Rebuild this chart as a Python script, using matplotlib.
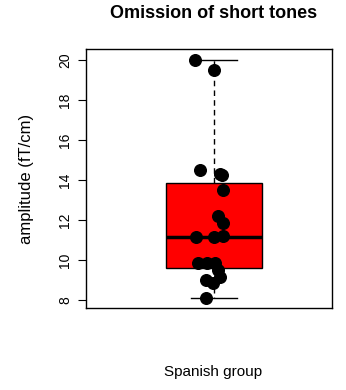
import matplotlib
matplotlib.use("Agg")
import matplotlib.pyplot as plt
import numpy as np

plt.rcParams["font.family"] = ["Liberation Sans", "DejaVu Sans"]

# box summary
box_stats = {"whislo": 8.1, "q1": 9.6, "med": 11.15, "q3": 13.85, "whishi": 20.0}
group_label = "Spanish group"

# individual points: jittered x, amplitude
point_x = [0.923, 1.0, 0.943, 1.024, 1.032, 1.037, 1.016, 1.037,
           0.927, 1.0, 1.037, 0.935, 0.972, 1.004, 1.016, 1.024,
           0.967, 0.996, 0.967]
point_y = [20.0, 19.5, 14.5, 14.3, 14.25, 13.5, 12.2, 11.85,
           11.15, 11.15, 11.2, 9.85, 9.85, 9.85, 9.5, 9.15,
           9.0, 8.85, 8.1]

yticks = [8, 10, 12, 14, 16, 18, 20]

fig = plt.figure(figsize=(3.46, 3.90), dpi=100)
ax = fig.add_axes([0.2486, 0.2103, 0.7109, 0.6641])

stats = [dict(box_stats, label="", fliers=[])]
ax.bxp(stats, positions=[1.0], widths=0.39, patch_artist=True,
       showfliers=False,
       boxprops=dict(facecolor="#ff0000", edgecolor="black", linewidth=1.0),
       medianprops=dict(color="black", linewidth=2.5),
       whiskerprops=dict(color="black", linestyle=(0, (4, 3)), linewidth=1.0),
       capprops=dict(color="black", linewidth=1.0),
       capwidths=0.19)

ax.scatter(point_x, point_y, s=70, color="black", zorder=3)

ax.set_xlim(0.48, 1.48)
ax.set_ylim(7.6, 20.55)
ax.set_xticks([])
ax.set_yticks(yticks)
ax.set_yticklabels([str(t) for t in yticks], rotation=90, va="center", fontsize=10)
ax.tick_params(axis="y", length=6, width=0.8, pad=4)
for s in ax.spines.values():
    s.set_linewidth(1.0)

fig.text(0.076, 0.54, "amplitude (fT/cm)", ha="center", va="center",
         rotation=90, fontsize=12)
fig.text(0.617, 0.046, group_label, ha="center", va="center", fontsize=11)
fig.text(0.616, 0.966, "Omission of short tones", ha="center", va="center",
         fontsize=13, fontweight="bold")

fig.savefig("out.png", dpi=100)
